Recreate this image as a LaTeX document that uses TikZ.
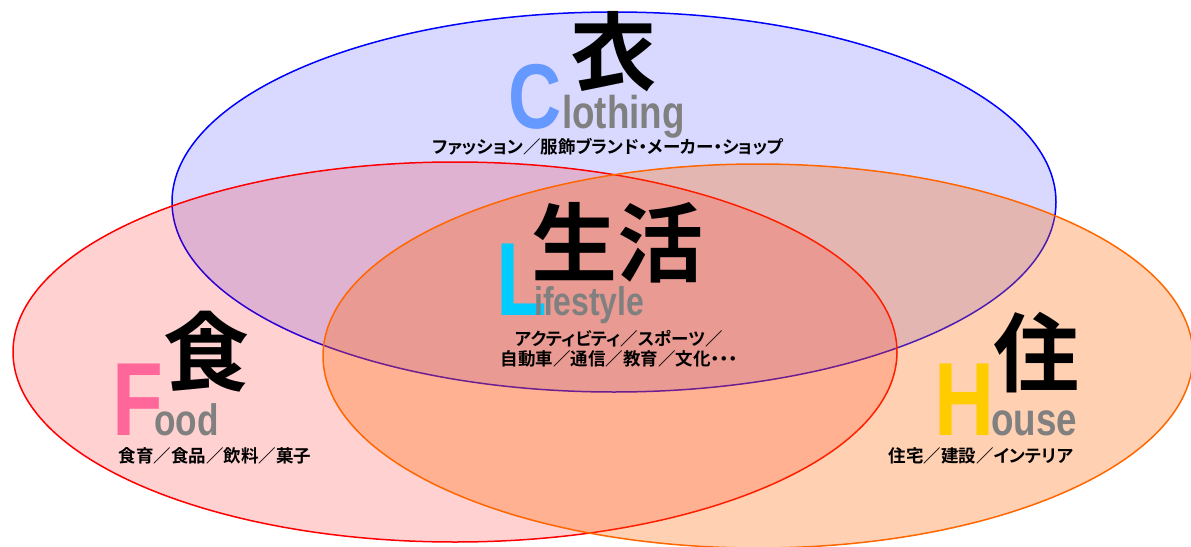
\documentclass[tikz,border=0pt]{standalone}
\usepackage{fontspec}
\setmainfont{Liberation Sans}
\newfontfamily\jpfont[RawFeature=+palt]{Noto Sans CJK JP Bold}
\usetikzlibrary{positioning}

\definecolor{clothblue}{RGB}{102,153,255}
\definecolor{lifecyan}{RGB}{0,204,255}
\definecolor{foodpink}{RGB}{255,102,153}
\definecolor{houseyellow}{RGB}{255,204,0}
\definecolor{wordgray}{RGB}{128,128,128}
\definecolor{houseorange}{RGB}{255,102,0}

\newcommand{\narrow}[1]{\scalebox{0.8}[1]{#1}}

\tikzset{
	kanji/.style={inner sep=0pt, font=\jpfont\fontsize{86}{86}\selectfont},
	initial/.style={inner sep=0pt, anchor=base west, font=\bfseries\fontsize{#1}{#1}\selectfont},
	rest/.style={inner sep=0pt, anchor=base west, text=wordgray, font=\bfseries\fontsize{#1}{#1}\selectfont},
	subtext/.style={inner sep=0pt, align=center, font=\jpfont\fontsize{17.5}{20}\selectfont}
}

\begin{document}
\begin{tikzpicture}[x=1pt,y=-1pt]
	\useasboundingbox (0,0) rectangle (1191,546);
	% circles
	\draw[blue, line width=1.5pt, fill=blue, fill opacity=0.15] (614,202) ellipse [x radius=442, y radius=190];
	\draw[red, line width=1.5pt, fill=red, fill opacity=0.18] (455,352) ellipse [x radius=442, y radius=190];
	\draw[houseorange, line width=1.5pt, fill=houseorange, fill opacity=0.3] (758,356) ellipse [x radius=435, y radius=192];
	% clothing
	\node[kanji] (cK) at (613,52) {衣};
	\node[initial=92, text=clothblue] (cL) at (508,128) {\narrow{C}};
	\node[rest=46] (cW) at (562,128) {\narrow{lothing}};
	\node[subtext] (cS) at (608,147) {ファッション／服飾ブランド・メーカー・ショップ};
	% lifestyle
	\node[kanji] (lK) at (617,243) {生活};
	\node[initial=104, text=lifecyan] (lL) at (496,315) {\narrow{L}};
	\node[rest=40] (lW) at (534,315) {\narrow{ifestyle}};
	\node[subtext] (lS) at (619,349) {アクティビティ／スポーツ／\\自動車／通信／教育／文化・・・};
	% food
	\node[kanji] (fK) at (206,352) {食};
	\node[initial=104, text=foodpink] (fL) at (112,435) {\narrow{F}};
	\node[rest=44] (fW) at (154,435) {\narrow{ood}};
	\node[subtext] (fS) at (215,456) {食育／食品／飲料／菓子};
	% house
	\node[kanji] (hK) at (1036,353) {住};
	\node[initial=104, text=houseyellow] (hL) at (934,435) {\narrow{H}};
	\node[rest=46] (hW) at (991,435) {\narrow{ouse}};
	\node[subtext] (hS) at (981,456) {住宅／建設／インテリア};
\end{tikzpicture}
\end{document}
